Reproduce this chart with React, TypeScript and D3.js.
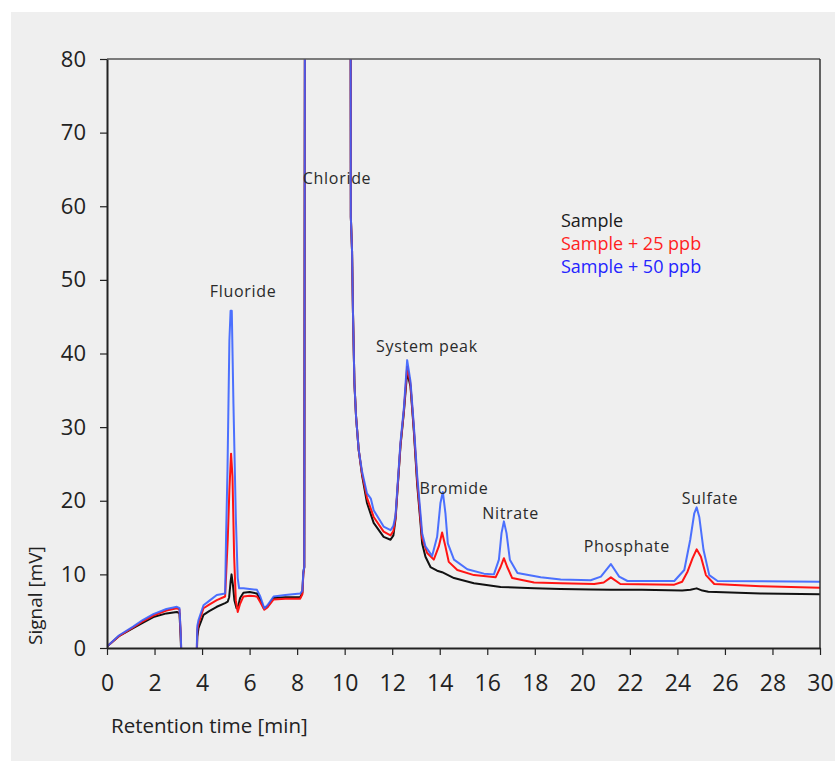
import React, { useRef, useEffect } from 'react';
import * as d3 from 'd3';

// retention time [min], signal [mV]
const sampleTrace: [number, number][] = [
  [0, 0.2], [0.5, 1.6], [1.1, 2.7], [1.5, 3.4], [1.95, 4.2], [2.5, 4.7], [2.94, 4.9], [3.05, 4.7],
  [3.1, 1.4], [3.2, -8], [3.72, -8], [3.8, 1.5], [3.85, 2.7], [4.06, 4.5], [4.3, 5.0], [4.62, 5.6],
  [4.97, 6.1], [5.08, 6.3], [5.14, 6.9], [5.2, 9.0], [5.24, 10.0], [5.3, 8.5], [5.36, 6.5], [5.45, 5.4],
  [5.53, 5.8], [5.6, 6.8], [5.74, 7.5], [6.0, 7.6], [6.31, 7.4], [6.45, 6.5], [6.6, 5.4], [6.75, 5.6],
  [7.01, 6.8], [7.5, 6.9], [8.13, 6.9], [8.22, 7.5], [8.26, 10.2], [8.3, 11], [8.34, 120], [10.24, 120],
  [10.26, 58.5], [10.31, 54], [10.35, 45.5], [10.41, 36], [10.48, 31.4], [10.59, 26.9], [10.73, 23.5],
  [10.94, 19.7], [11.22, 17.0], [11.64, 15.1], [11.93, 14.7], [12.05, 15.3], [12.14, 17.5], [12.35, 27.5],
  [12.49, 32], [12.63, 37.5], [12.77, 35.5], [12.91, 29.5], [13.05, 22.3], [13.19, 17.0], [13.26, 14.2],
  [13.4, 12.4], [13.61, 11.0], [13.89, 10.5], [14.1, 10.3], [14.6, 9.5], [15.44, 8.8], [16.56, 8.3],
  [17.97, 8.1], [19.09, 8.0], [20.35, 7.95], [21.2, 7.9], [22.5, 7.9], [24.2, 7.8], [24.55, 7.9],
  [24.81, 8.1], [25.05, 7.8], [25.3, 7.65], [27.5, 7.4], [30, 7.3],
];

const spike25Trace: [number, number][] = [
  [0, 0.2], [0.5, 1.6], [1.1, 2.8], [1.5, 3.6], [1.95, 4.4], [2.5, 5.1], [2.94, 5.4], [3.05, 5.2],
  [3.1, 2], [3.2, -8], [3.72, -8], [3.8, 2.5], [3.85, 3.3], [4.06, 5.4], [4.3, 5.9], [4.62, 6.5],
  [4.97, 7.0], [5.08, 14.7], [5.15, 21.5], [5.22, 26.4], [5.28, 23.3], [5.35, 12.4], [5.42, 6.5],
  [5.5, 4.9], [5.6, 6.0], [5.74, 7.0], [6.0, 7.1], [6.31, 7.0], [6.45, 6.2], [6.62, 5.2], [6.75, 5.5],
  [7.01, 6.6], [7.5, 6.7], [8.13, 6.7], [8.22, 7.3], [8.26, 10.0], [8.3, 11], [8.34, 120], [10.24, 120],
  [10.26, 58.5], [10.31, 54], [10.35, 45.5], [10.41, 36], [10.48, 31.4], [10.59, 26.9], [10.73, 23.7],
  [10.94, 20.4], [11.22, 17.8], [11.64, 15.8], [11.93, 15.3], [12.05, 15.9], [12.14, 17.7], [12.35, 27.7],
  [12.49, 32.2], [12.63, 38.2], [12.77, 35.8], [12.91, 29.8], [13.05, 22.8], [13.19, 17.5], [13.26, 14.9],
  [13.47, 12.9], [13.75, 12.0], [13.96, 13.8], [14.1, 15.7], [14.24, 13.8], [14.38, 11.7], [14.74, 10.6],
  [15.44, 9.9], [16.35, 9.6], [16.56, 11.0], [16.7, 12.2], [16.84, 11.0], [17.05, 9.5], [17.97, 8.9],
  [19.09, 8.8], [20.5, 8.7], [20.9, 8.9], [21.2, 9.6], [21.6, 8.7], [23.87, 8.6], [24.2, 9.0],
  [24.43, 10.4], [24.64, 12.2], [24.81, 13.4], [24.99, 12.4], [25.2, 9.9], [25.55, 8.7], [27.5, 8.4],
  [30, 8.2],
];

const spike50Trace: [number, number][] = [
  [0, 0.2], [0.5, 1.7], [1.1, 2.9], [1.5, 3.8], [1.95, 4.6], [2.5, 5.3], [2.94, 5.6], [3.05, 5.4],
  [3.1, 2.2], [3.2, -8], [3.72, -8], [3.8, 3.0], [3.85, 3.8], [4.06, 5.8], [4.3, 6.4], [4.62, 7.2],
  [4.97, 7.4], [5.01, 15.1], [5.07, 24.2], [5.15, 41.8], [5.2, 45.8], [5.25, 45.8], [5.32, 33.2],
  [5.42, 17.8], [5.5, 9.5], [5.56, 8.1], [5.74, 8.1], [6.0, 8.0], [6.31, 7.9], [6.45, 7.0], [6.62, 5.4],
  [6.75, 5.8], [7.01, 7.0], [7.5, 7.2], [8.13, 7.4], [8.22, 7.8], [8.26, 10.3], [8.3, 11], [8.34, 120],
  [10.24, 120], [10.26, 58.5], [10.31, 54], [10.35, 45.5], [10.41, 36], [10.48, 31.4], [10.59, 26.9],
  [10.73, 24], [10.94, 21], [11.1, 20.3], [11.22, 18.7], [11.64, 16.5], [11.93, 16.0], [12.05, 16.6],
  [12.14, 18], [12.35, 28], [12.49, 32.5], [12.63, 39.1], [12.77, 36.2], [12.91, 30.2], [13.05, 23.5],
  [13.19, 18.3], [13.26, 15.6], [13.4, 13.8], [13.68, 12.5], [13.89, 15.1], [14.03, 19.7], [14.13, 21.2],
  [14.24, 18.3], [14.34, 14.2], [14.6, 12.0], [15.16, 10.7], [15.86, 10.1], [16.28, 10.0], [16.49, 12.0],
  [16.6, 15.6], [16.7, 17.2], [16.81, 15.6], [16.95, 12.0], [17.27, 10.2], [18.25, 9.6], [19.09, 9.3],
  [20.35, 9.2], [20.78, 9.7], [21.2, 11.4], [21.55, 9.7], [21.9, 9.1], [23.87, 9.1], [24.29, 10.6],
  [24.54, 14.7], [24.71, 18.3], [24.81, 19.1], [24.92, 17.8], [25.1, 13.3], [25.34, 9.9], [25.69, 9.1],
  [30, 9.0],
];

const seriesNames = ['Sample', 'Sample + 25 ppb', 'Sample + 50 ppb'];
const lineColors = ['#111111', '#ff1414', '#3862ff'];
const legendColors = ['#1a1a1a', '#ff1e1e', '#2424ff'];

const xTicks = d3.range(0, 31, 2);
const yTicks = d3.range(0, 81, 10);

// peak labels: name, retention time, signal at the label baseline
const peakNames = ['Fluoride', 'Chloride', 'System peak', 'Bromide', 'Nitrate', 'Phosphate', 'Sulfate'];
const peakTimes = [5.73, 9.68, 13.46, 14.6, 16.98, 21.87, 25.37];
const peakLabelLevels = [47.7, 63.0, 40.2, 20.9, 17.5, 13.1, 19.6];

const W = 835;
const H = 761;

const App = () => {
  const svgRef = useRef<SVGSVGElement>(null);

  useEffect(() => {
    const svg = d3.select(svgRef.current);
    svg.selectAll('*').remove();

    const margin = { top: 59, right: 15, bottom: 113, left: 107 };
    const innerW = W - margin.left - margin.right;
    const innerH = H - margin.top - margin.bottom;

    const x = d3.scaleLinear().domain([0, 30]).range([0, innerW]);
    const y = d3.scaleLinear().domain([0, 80]).range([innerH, 0]);

    svg.append('rect')
      .attr('x', 11).attr('y', 12)
      .attr('width', W - 11).attr('height', H - 12)
      .attr('fill', '#efefef');

    svg.append('defs').append('clipPath').attr('id', 'plot-clip')
      .append('rect').attr('width', innerW).attr('height', innerH);

    const g = svg.append('g').attr('transform', `translate(${margin.left},${margin.top})`);

    const font = '"Open Sans", "DejaVu Sans", sans-serif';

    // traces
    const line = d3.line<[number, number]>()
      .x(d => x(d[0]))
      .y(d => y(d[1]));

    const traces = [sampleTrace, spike25Trace, spike50Trace];
    const plot = g.append('g').attr('clip-path', 'url(#plot-clip)');
    traces.forEach((tr, i) => {
      plot.append('path')
        .datum(tr)
        .attr('d', line)
        .attr('fill', 'none')
        .attr('stroke', lineColors[i])
        .attr('stroke-opacity', i === 2 ? 0.9 : 1)
        .attr('stroke-width', 2)
        .attr('stroke-linejoin', 'round');
    });

    // frame
    g.append('line').attr('x1', 0).attr('x2', innerW).attr('y1', 0).attr('y2', 0)
      .attr('stroke', '#555').attr('stroke-width', 1.5);
    g.append('line').attr('x1', innerW).attr('x2', innerW).attr('y1', 0).attr('y2', innerH)
      .attr('stroke', '#333').attr('stroke-width', 1.5);

    // axes
    const xAxis = g.append('g')
      .attr('transform', `translate(0,${innerH})`)
      .call(d3.axisBottom(x).tickValues(xTicks).tickSize(7).tickSizeOuter(0).tickPadding(20));
    xAxis.select('.domain').attr('stroke', '#222').attr('stroke-width', 2);
    xAxis.selectAll('.tick line').attr('stroke', '#222').attr('stroke-width', 1.2);
    xAxis.selectAll('text')
      .attr('fill', '#222')
      .style('font-family', font)
      .style('font-size', '23px');

    const yAxis = g.append('g')
      .call(d3.axisLeft(y).tickValues(yTicks).tickSize(7).tickSizeOuter(0).tickPadding(14));
    yAxis.select('.domain').attr('stroke', '#222').attr('stroke-width', 2);
    yAxis.selectAll('.tick line').attr('stroke', '#222').attr('stroke-width', 1.2);
    yAxis.selectAll('text')
      .attr('fill', '#222')
      .style('font-family', font)
      .style('font-size', '22px');

    // axis titles
    svg.append('text')
      .attr('x', 111).attr('y', 733)
      .attr('fill', '#222')
      .style('font-family', font)
      .style('font-size', '20.5px')
      .text('Retention time [min]');

    svg.append('text')
      .attr('transform', 'translate(42,645) rotate(-90)')
      .attr('fill', '#222')
      .style('font-family', font)
      .style('font-size', '19px')
      .text('Signal [mV]');

    // peak labels
    peakNames.forEach((name, i) => {
      g.append('text')
        .attr('x', x(peakTimes[i]))
        .attr('y', y(peakLabelLevels[i]))
        .attr('text-anchor', 'middle')
        .attr('fill', '#2a2a2a')
        .style('font-family', font)
        .style('font-size', '16px')
        .style('letter-spacing', '0.7px')
        .text(name);
    });

    // legend
    const legend = svg.append('g').attr('transform', 'translate(561,227)');
    seriesNames.forEach((name, i) => {
      legend.append('text')
        .attr('x', 0)
        .attr('y', i * 23)
        .attr('fill', legendColors[i])
        .style('font-family', font)
        .style('font-size', '18px')
        .text(name);
    });
  }, []);

  return (
    <svg
      ref={svgRef}
      width={W}
      height={H}
      style={{ position: 'absolute', left: 0, top: 0, display: 'block' }}
    />
  );
};

export default App;
